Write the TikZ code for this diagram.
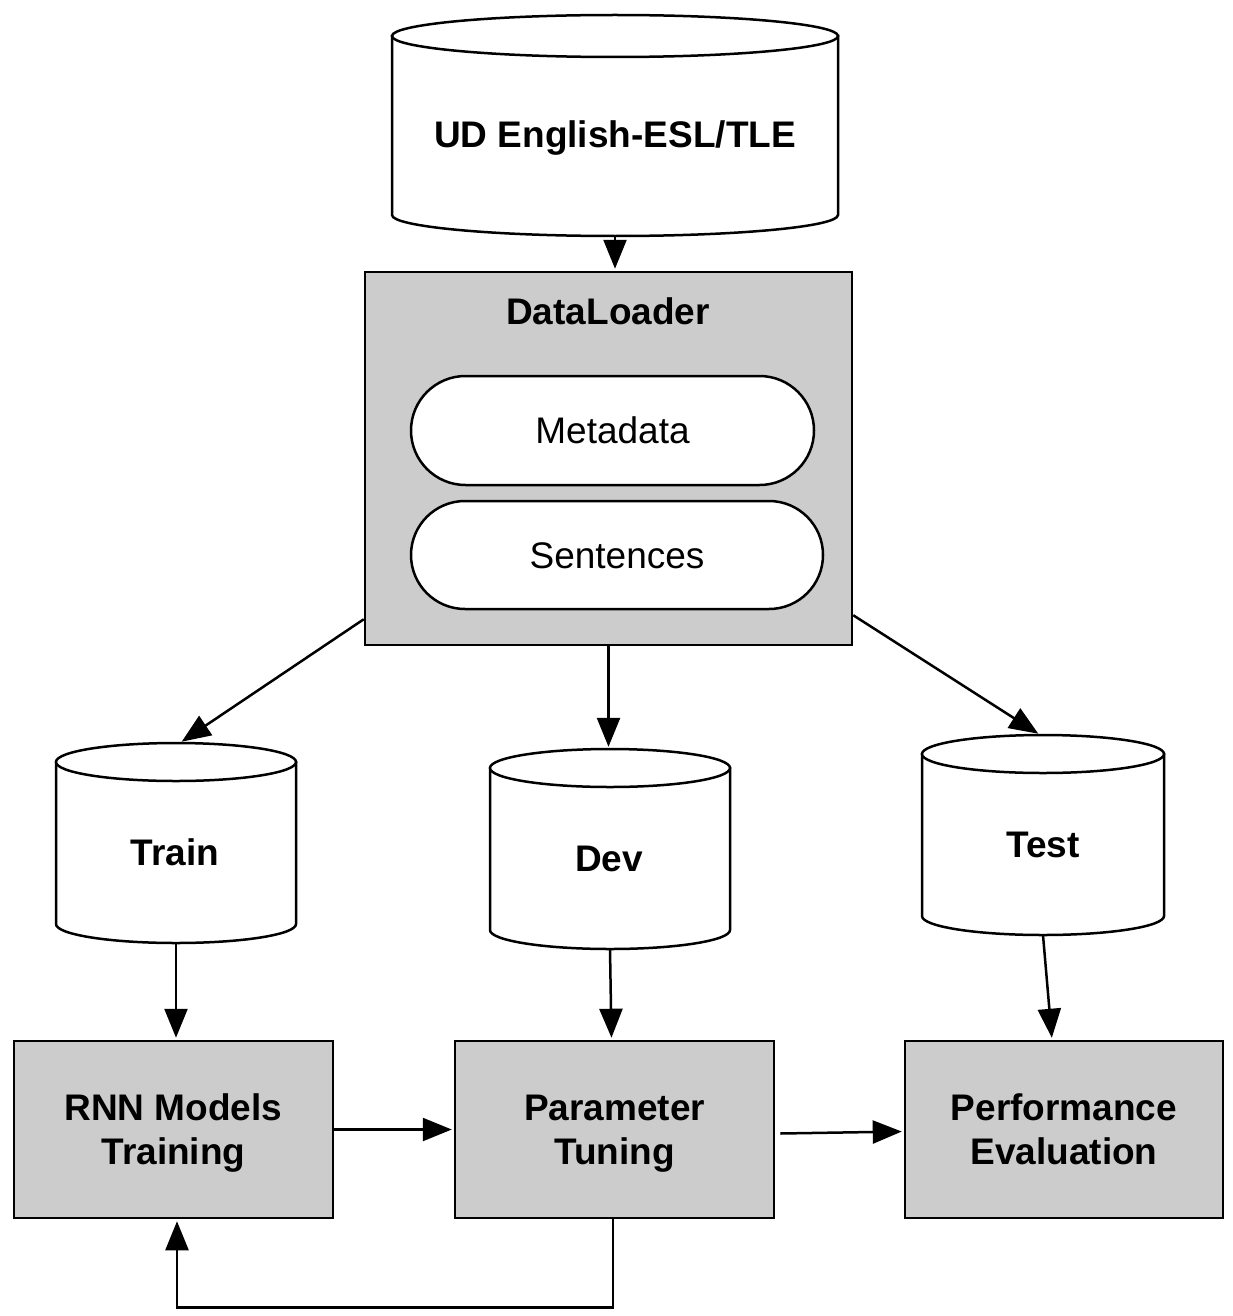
\documentclass[tikz,border=0pt]{standalone}
\usepackage{fontspec}
\setmainfont{Liberation Sans}
\usetikzlibrary{arrows.meta,shapes.misc}
\tikzset{
  lw/.style={line width=2.5pt},
  cylline/.style={lw, draw=black, fill=white},
  graybox/.style={lw, draw=black, fill=boxgray, inner sep=0pt, align=center,
     font=\fontsize{37}{44}\selectfont\bfseries},
  pill/.style={lw, draw=black, fill=white, rounded rectangle, inner sep=0pt},
  btxt/.style={anchor=base, inner sep=0pt, font=\fontsize{37}{44}\selectfont\bfseries},
  rtxt/.style={anchor=base, inner sep=0pt, font=\fontsize{37}{44}\selectfont},
  conn/.style={lw, -{Triangle[length=29pt,width=23pt]}, shorten >=2pt},
}
\definecolor{boxgray}{HTML}{CCCCCC}
\newcommand\nodepth[1]{\raisebox{0pt}[\height][0pt]{#1}}
\newcommand\dbcyl[6]{%
  \draw[cylline] ({#2-#5},#3) -- ({#2-#5},#4)
    .. controls ({#2-#5},{#4+0.5523*#6}) and ({#2-0.5523*#5},{#4+#6}) .. ({#2},{#4+#6})
    .. controls ({#2+0.5523*#5},{#4+#6}) and ({#2+#5},{#4+0.5523*#6}) .. ({#2+#5},#4)
    -- ({#2+#5},#3) -- cycle;
  \draw[cylline] (#2,#3) ellipse [x radius=#5pt, y radius=#6pt];
  \node[inner sep=0pt, minimum width={2*#5*1pt}, minimum height={(#4-#3+2*#6)*1pt}] (#1) at (#2,{(#3+#4)/2}) {};
}
\begin{document}
\begin{tikzpicture}[x=1pt,y=-1pt]
\useasboundingbox (0,0) rectangle (1232,1316);

% source cylinder
\dbcyl{ud}{615}{36}{215}{223}{21}
\node[btxt] (udlbl) at (615,148) {UD English-ESL/TLE};

% DataLoader
\node[graybox, minimum width=487pt, minimum height=373pt] (dl) at (608.5,458.5) {};
\node[btxt] (dltitle) at (608,324) {DataLoader};
\node[pill, minimum width=403pt, minimum height=109pt] (meta) at (612.5,430.5) {};
\node[rtxt] (metalbl) at (612.5,443) {Metadata};
\node[pill, minimum width=412pt, minimum height=108pt] (sent) at (617,555) {};
\node[rtxt] (sentlbl) at (617,568) {Sentences};

% split cylinders
\dbcyl{train}{176}{762}{924}{120}{19}
\node[btxt] (trainlbl) at (175,865) {Train};
\dbcyl{dev}{610}{768}{930}{120}{19}
\node[btxt] (devlbl) at (609,871) {Dev};
\dbcyl{test}{1043}{754}{916}{121}{19}
\node[btxt] (testlbl) at (1043,857) {Test};

% process boxes
\node[graybox, minimum width=319pt, minimum height=177pt] (rnn) at (173.5,1129.5) {RNN Models\\\nodepth{Training}};
\node[graybox, minimum width=319pt, minimum height=177pt] (param) at (614.5,1129.5) {Parameter\\\nodepth{Tuning}};
\node[graybox, minimum width=318pt, minimum height=177pt] (perf) at (1064,1129.5) {Performance\\Evaluation};

% connectors
\draw[conn] (ud.south) -- (ud.south |- dl.north);
\draw[conn] ([yshift=27pt]dl.south west) -- ([xshift=4pt]train.north);
\draw[conn] (dl.south) -- (dl.south |- dev.north);
\draw[conn] ([yshift=31pt]dl.south east) -- ([xshift=-3pt]test.north);
\draw[conn] (train.south) -- (train.south |- rnn.north);
\draw[conn] (dev.south) -- ([xshift=-3pt]param.north);
\draw[conn] (test.south) -- ([xshift=-12pt]perf.north);
\draw[conn] (rnn.east) -- (param.west);
\draw[conn] ([xshift=5pt,yshift=-4pt]param.east) -- ([yshift=-2pt]perf.west);
\draw[conn] ([xshift=-1.5pt]param.south) -- ++(0,88) -| ([xshift=3.5pt]rnn.south);
\end{tikzpicture}
\end{document}
